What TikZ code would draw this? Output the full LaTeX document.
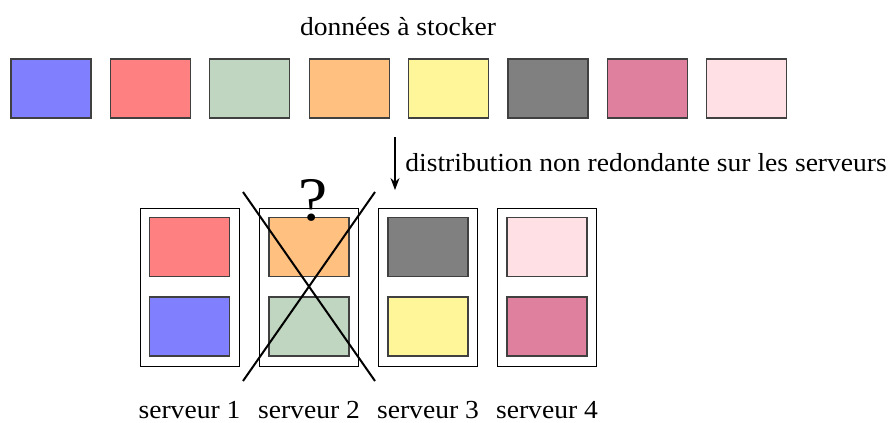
\documentclass[tikz,border=0pt]{standalone}
\usepackage{fontspec}
\setmainfont[FakeStretch=1.06]{Liberation Serif}
\usetikzlibrary{arrows.meta}
\definecolor{cblue}{RGB}{128,128,255}
\definecolor{cred}{RGB}{255,128,128}
\definecolor{cgreen}{RGB}{192,214,192}
\definecolor{corange}{RGB}{255,192,128}
\definecolor{cyellow}{RGB}{255,246,153}
\definecolor{cgray}{RGB}{128,128,128}
\definecolor{cmauve}{RGB}{222,128,158}
\definecolor{cpink}{RGB}{255,224,228}
\tikzset{
  block/.style={draw=black!75, line width=0.6pt, minimum width=40pt, minimum height=29.5pt, inner sep=0pt},
  server/.style={draw=black, line width=0.5pt, minimum width=49.5pt, minimum height=79pt, inner sep=0pt},
  lbl/.style={inner sep=0pt, font=\fontsize{13}{16}\selectfont},
  cross/.style={line width=1pt},
}
\begin{document}
\begin{tikzpicture}[x=0.5pt, y=-0.5pt]
\useasboundingbox (0,0) rectangle (891,423);

% data blocks to store
\node[lbl] (title) at (398,27) {données à stocker};
\foreach \c [count=\i] in {cblue,cred,cgreen,corange,cyellow,cgray,cmauve,cpink}
  \node[block, fill=\c] (d\i) at ({51+99.4*(\i-1)},88.5) {};

% distribution arrow
\coordinate (a1) at (395,137);
\coordinate (a2) at (395,190);
\draw[-{Stealth[length=6pt,width=4.5pt]}, line width=0.6pt] (a1) -- (a2);
\node[lbl, anchor=west] (dist) at (405,163) {distribution non redondante sur les serveurs};

% servers
\foreach \x/\top/\bot/\n in {189.5/cred/cblue/1, 309/corange/cgreen/2, 428/cgray/cyellow/3, 547/cpink/cmauve/4} {
  \node[server] (s\n) at (\x,287) {};
  \node[block, fill=\top] (s\n t) at (\x,247) {};
  \node[block, fill=\bot] (s\n b) at (\x,326.5) {};
  \node[lbl] (l\n) at (\x,410) {serveur \n};
}

% failed server
\coordinate (c1) at (243,192);
\coordinate (c2) at (375,381);
\coordinate (c3) at (375,192);
\coordinate (c4) at (243,381);
\draw[cross] (c1) -- (c2);
\draw[cross] (c3) -- (c4);
\node[inner sep=0pt, font=\fontsize{31}{36}\selectfont] (q) at (313,200) {?};
\end{tikzpicture}
\end{document}
